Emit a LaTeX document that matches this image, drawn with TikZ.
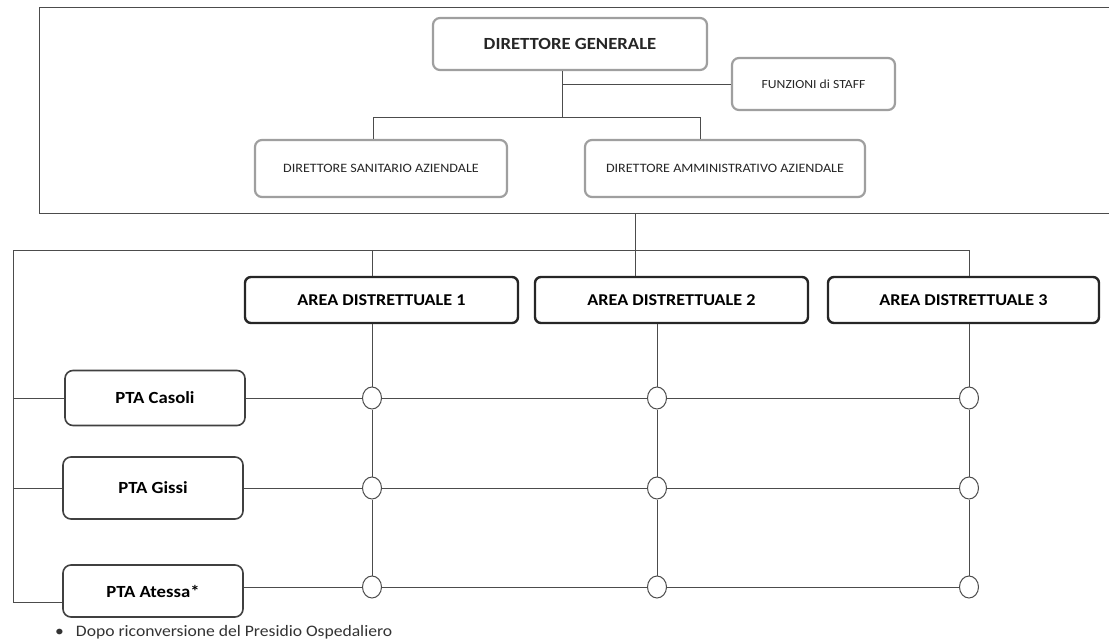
\documentclass[tikz,border=0pt]{standalone}
\usepackage{fontspec}
\setmainfont{Carlito}[FakeStretch=1.1]
\usetikzlibrary{shapes.geometric}
\newcommand{\fs}[1]{\fontsize{#1bp}{#1bp}\selectfont}
\begin{document}
\begin{tikzpicture}[x=1bp,y=-1bp,
  topbox/.style={draw=gray!75,line width=2.2bp,rounded corners=7bp,fill=white,inner sep=0pt,align=center,text=black!85},
  areabox/.style={draw=black!85,line width=2.4bp,rounded corners=6bp,fill=white,inner sep=0pt,font=\fs{16.5}\bfseries},
  ptabox/.style={draw=black!75,line width=1.6bp,rounded corners=8bp,fill=white,inner sep=0pt,font=\fs{17}\bfseries},
  conn/.style={draw=black!70,line width=0.9bp},
  knot/.style={ellipse,draw=black!70,line width=1bp,fill=white,minimum width=19bp,minimum height=22bp,inner sep=0pt}]
\useasboundingbox (0,0) rectangle (1109,643);
% upper frame
\node[draw=black!70,line width=1bp,minimum width=1082bp,minimum height=205bp,inner sep=0pt] (frame) at (581,110.5) {};
% upper boxes
\node[topbox,minimum width=274bp,minimum height=52bp,font=\fs{17}\bfseries] (dg) at (570,44) {DIRETTORE GENERALE};
\node[topbox,minimum width=163bp,minimum height=52bp,font=\fs{12.4}] (staff) at (813.5,84) {FUNZIONI di STAFF};
\node[topbox,minimum width=252bp,minimum height=57bp,font=\fs{12.8}] (dsa) at (381,168.5) {DIRETTORE SANITARIO AZIENDALE};
\node[topbox,minimum width=280bp,minimum height=57bp,font=\fs{12.8}] (daa) at (725,168.5) {DIRETTORE AMMINISTRATIVO AZIENDALE};
\coordinate (j0) at (562,84);
\coordinate (j1) at (562,117);
\coordinate (ls) at (373,117);
\coordinate (rs) at (700,117);
\draw[conn] (dg.south -| j1) -- (j1);
\draw[conn] (j0) -- (staff);
\draw[conn] (dsa.north -| ls) -- (ls) -- (rs) -- (daa.north -| rs);
% area boxes
\node[areabox,minimum width=273bp,minimum height=46bp] (ad1) at (381.5,300) {AREA DISTRETTUALE 1};
\node[areabox,minimum width=273bp,minimum height=46bp] (ad2) at (671.5,300) {AREA DISTRETTUALE 2};
\node[areabox,minimum width=271bp,minimum height=46bp] (ad3) at (963.5,300) {AREA DISTRETTUALE 3};
% PTA boxes
\node[ptabox,minimum width=180bp,minimum height=55bp] (pta1) at (155,398) {PTA Casoli};
\node[ptabox,minimum width=180bp,minimum height=62bp] (pta2) at (153,488) {PTA Gissi};
\node[ptabox,minimum width=180bp,minimum height=52bp] (pta3) at (153,591) {PTA Atessa*};
% knots
\foreach \r/\y in {1/398,2/488,3/587}{
  \node[knot] (c\r1) at (372,\y) {};
  \node[knot] (c\r2) at (657,\y) {};
  \node[knot] (c\r3) at (969,\y) {};
}
% lower frame lines
\coordinate (lf1) at (13,250);
\coordinate (lf2) at (13,602);
\coordinate (x2) at (635,250);
\draw[conn] (ad3.north -| c13) -- (c13 |- lf1) -- (lf1) -- (lf2) -- (pta3.west |- lf2);
\draw[conn] (ad1.north -| c11) -- (c11 |- lf1);
\draw[conn] (frame.south -| x2) -- (ad2.north -| x2);
\draw[conn] (lf1 |- pta1) -- (pta1);
\draw[conn] (lf1 |- pta2) -- (pta2);
% grid
\foreach \r in {1,2,3}{
  \draw[conn] (pta\r.east |- c\r1) -- (c\r1) -- (c\r2) -- (c\r3);
}
\draw[conn] (ad1.south -| c11) -- (c11) -- (c21) -- (c31);
\draw[conn] (ad2.south -| c12) -- (c12) -- (c22) -- (c32);
\draw[conn] (ad3.south -| c13) -- (c13) -- (c23) -- (c33);
% footnote
\node[anchor=west,inner sep=0pt,font=\fs{16},text=black!80] (note) at (55,632) {\textbullet\hspace{12bp}Dopo riconversione del Presidio Ospedaliero};
\end{tikzpicture}
\end{document}
